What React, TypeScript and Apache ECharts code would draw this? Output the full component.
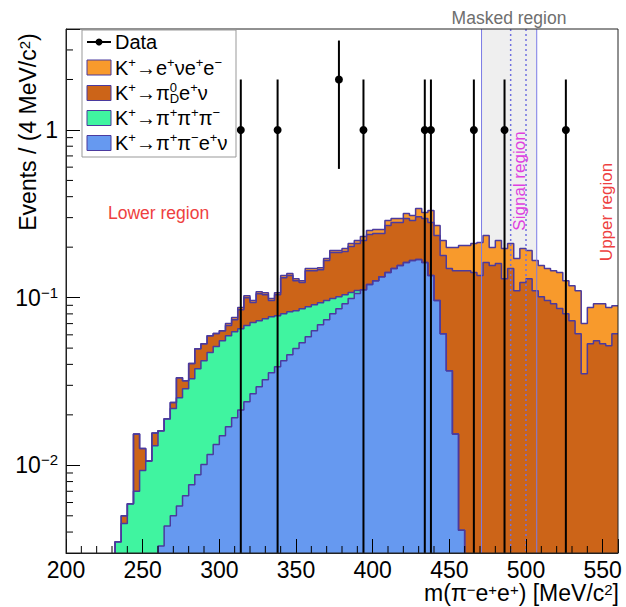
import React, { useEffect, useRef } from "react";
import * as echarts from "echarts";

// ---------- axis definition ----------
const X_MIN = 200;
const X_MAX = 560;
const BIN_WIDTH = 4;
const Y_MIN = 0.003;
const Y_MAX = 4;

const xTickLabels = ["200", "250", "300", "350", "400", "450", "500", "550"];
// exponent -> label ("^" marks a superscript)
const yTickLabels: Record<string, string> = { "0": "1", "-1": "10^−1", "-2": "10^−2" };

// ---------- histogram contents: 90 bins of 4 MeV from 200 to 560 ----------
// K+ -> pi+ pi- e+ nu (bottom of the stack)
const kPiPiENu = [
  0, 0, 0, 0, 0, 0, 0, 0, 0, 0,
  0, 0, 0, 0, 0, 0.0033, 0.00435, 0.005, 0.00573, 0.00658,
  0.00765, 0.00878, 0.0101, 0.0116, 0.0133, 0.015, 0.017, 0.0192, 0.0214, 0.0239,
  0.0267, 0.0294, 0.0324, 0.0357, 0.0387, 0.0421, 0.0457, 0.0497, 0.0539, 0.0585,
  0.0635, 0.069, 0.0739, 0.0802, 0.0859, 0.0921, 0.0987, 0.1057, 0.1116, 0.1196,
  0.1262, 0.1334, 0.141, 0.149, 0.1553, 0.1618, 0.1663, 0.1686, 0.1618, 0.1353,
  0.096, 0.061, 0.0367, 0.0154, 0.0041, 0, 0, 0, 0, 0,
  0, 0, 0, 0, 0, 0, 0, 0, 0, 0,
  0, 0, 0, 0, 0, 0, 0, 0, 0, 0,
];
// K+ -> pi+ pi+ pi-
const kPiPiPi = [
  0, 0, 0, 0, 0, 0, 0, 0, 0.0035, 0.0045,
  0.0059, 0.007, 0.0093, 0.0106, 0.0131, 0.0128, 0.0146, 0.0168, 0.0196, 0.022,
  0.0252, 0.0289, 0.032, 0.0354, 0.0378, 0.0403, 0.0423, 0.0435, 0.0439, 0.0442,
  0.0443, 0.0435, 0.0425, 0.0413, 0.0394, 0.0381, 0.0368, 0.0339, 0.032, 0.0298,
  0.0273, 0.0243, 0.0221, 0.0185, 0.0155, 0.0121, 0.0085, 0.0045, 0, 0,
  0, 0, 0, 0, 0, 0, 0, 0, 0, 0,
  0, 0, 0, 0, 0, 0, 0, 0, 0, 0,
  0, 0, 0, 0, 0, 0, 0, 0, 0, 0,
  0, 0, 0, 0, 0, 0, 0, 0, 0, 0,
];
// K+ -> pi0_D e+ nu
const kPi0DENu = [
  0, 0, 0, 0, 0, 0, 0, 0, 0, 0.0005,
  0, 0.0084, 0.0033, 0, 0.0025, 0, 0, 0.0019, 0.008, 0.0034,
  0.0076, 0.0119, 0.011, 0.0123, 0.01, 0.0082, 0.0088, 0.0112, 0.0195, 0.0319,
  0.0224, 0.0327, 0.0293, 0.019, 0.0261, 0.0514, 0.0528, 0.0427, 0.037, 0.0566,
  0.0541, 0.0536, 0.0703, 0.0869, 0.0842, 0.084, 0.0944, 0.0999, 0.1073, 0.1181,
  0.1148, 0.1076, 0.1281, 0.1314, 0.1251, 0.1342, 0.1217, 0.1354, 0.1342, 0.1451,
  0.1385, 0.1171, 0.1123, 0.1295, 0.1408, 0.1449, 0.141, 0.1353, 0.1618, 0.1553,
  0.1596, 0.1298, 0.149, 0.1101, 0.1229, 0.1298, 0.1101, 0.1014, 0.096, 0.0921,
  0.086, 0.0802, 0.0729, 0.061, 0.0352, 0.0531, 0.0553, 0.0531, 0.0517, 0.061,
];
// K+ -> e+ nu e+ e- (top of the stack)
const kENuEE = [
  0, 0, 0, 0, 0, 0, 0, 0, 0, 0,
  0, 0, 0, 0, 0, 0, 0, 0, 0, 0,
  0, 0, 0, 0, 0, 0, 0.0019, 0.0021, 0.0024, 0.0028,
  0.0026, 0.003, 0.0029, 0.0027, 0.0029, 0.0037, 0.0038, 0.0035, 0.0034, 0.0041,
  0.0041, 0.0041, 0.0046, 0.0052, 0.0052, 0.0079, 0.0085, 0.0088, 0.0124, 0.0135,
  0.0137, 0.0137, 0.0189, 0.0156, 0.0156, 0.021, 0.021, 0.036, 0.026, 0.0506,
  0.0346, 0.0408, 0.0499, 0.054, 0.0595, 0.0595, 0.0691, 0.0777, 0.0727, 0.0436,
  0.0593, 0.0663, 0.0611, 0.0608, 0.0732, 0.061, 0.0562, 0.0539, 0.053, 0.0528,
  0.055, 0.0461, 0.045, 0.0491, 0.0348, 0.0341, 0.0368, 0.039, 0.0355, 0.0286,
];

// ---------- data ----------
const dataMass = [314, 338, 378, 394, 434, 438, 466, 486, 526];
const dataEvents = [1, 1, 2, 1, 1, 1, 1, 1, 1];

// ---------- regions ----------
const maskedRegion = [471, 507];
const signalRegion = [490, 500];

const FONT = '"Liberation Sans", Arial, Helvetica, sans-serif';
const OUTLINE = "#4b3a9e";
const C_ENUEE = "#f89a2c";
const C_PI0D = "#cc6418";
const C_PIPIPI = "#40f4a0";
const C_PIPIENU = "#6699f0";

function add(a: number[], b: number[]) {
  return a.map((v, i) => v + b[i]);
}

function stepData(cum: number[]) {
  const pts = cum.map((v, i) => [X_MIN + BIN_WIDTH * i, v > 0 ? v : 1e-5]);
  pts.push([X_MAX, pts[pts.length - 1][1]]);
  return pts;
}

function stepSeries(name: string, cum: number[], color: string) {
  return {
    type: "line",
    name,
    step: "end",
    symbol: "none",
    clip: true,
    silent: true,
    data: stepData(cum),
    lineStyle: { color: OUTLINE, width: 1.5 },
    itemStyle: { color },
    areaStyle: { color, opacity: 1, origin: "start" },
    z: 3,
  };
}

export default function App() {
  const ref = useRef<HTMLDivElement>(null);

  useEffect(() => {
    const chart = echarts.init(ref.current!, undefined, { renderer: "svg" });

    const cumBlue = kPiPiENu.slice();
    const cumGreen = add(cumBlue, kPiPiPi);
    const cumDark = add(cumGreen, kPi0DENu);
    const cumTotal = add(cumDark, kENuEE);

    const minorTicks: number[][] = [];
    for (let x = X_MIN + 10; x < X_MAX; x += 10) {
      if (x % 50 !== 0) minorTicks.push([x, Y_MIN, 0]);
    }
    for (let e = -3; e <= 0; e++) {
      for (let m = 2; m <= 9; m++) {
        const v = m * Math.pow(10, e);
        if (v > Y_MIN * 1.0001 && v < Y_MAX * 0.9999) minorTicks.push([X_MIN, v, 1]);
      }
    }

    const supStyle = { fontSize: 13, fontFamily: FONT, color: "#000", verticalAlign: "top", lineHeight: 11 };
    const legendRich = {
      m: { fontSize: 20, fontFamily: FONT, color: "#000", lineHeight: 24, verticalAlign: "middle" },
      p: supStyle,
      z: { ...supStyle, width: 0 },
      d: { fontSize: 13, fontFamily: FONT, color: "#000", verticalAlign: "bottom", lineHeight: 11 },
    };

    const legendRows = [
      { text: "{m|Data}", color: null },
      { text: "{m|K}{p|+}{m|→e}{p|+}{m|νe}{p|+}{m|e}{p|−}", color: C_ENUEE },
      { text: "{m|K}{p|+}{m|→π}{z|0}{d|D}{m|e}{p|+}{m|ν}", color: C_PI0D },
      { text: "{m|K}{p|+}{m|→π}{p|+}{m|π}{p|+}{m|π}{p|−}", color: C_PIPIPI },
      { text: "{m|K}{p|+}{m|→π}{p|+}{m|π}{p|−}{m|e}{p|+}{m|ν}", color: C_PIPIENU },
    ];
    const rowY = [42, 67.5, 93, 118, 143];

    const legendElements: any[] = [
      {
        type: "rect",
        shape: { x: 82, y: 30, width: 154, height: 127 },
        style: { fill: "#fff", stroke: "#999", lineWidth: 1 },
        z: 100,
      },
    ];
    legendRows.forEach((r, i) => {
      const y = rowY[i];
      if (r.color) {
        legendElements.push({
          type: "rect",
          shape: { x: 87, y: y - 7.5, width: 24, height: 15 },
          style: { fill: r.color, stroke: OUTLINE, lineWidth: 1 },
          z: 101,
        });
      } else {
        legendElements.push({
          type: "line",
          shape: { x1: 87, y1: y, x2: 111, y2: y },
          style: { stroke: "#000", lineWidth: 2 },
          z: 101,
        });
        legendElements.push({
          type: "circle",
          shape: { cx: 99, cy: y, r: 3.5 },
          style: { fill: "#000" },
          z: 101,
        });
      }
      legendElements.push({
        type: "text",
        x: 115,
        y,
        style: { text: r.text, rich: legendRich, verticalAlign: "middle", align: "left" },
        z: 101,
      });
    });

    const titleRich = {
      t: { fontSize: 23, fontFamily: FONT, color: "#000", lineHeight: 22, verticalAlign: "middle" },
      s: { fontSize: 15, fontFamily: FONT, color: "#000", verticalAlign: "top", lineHeight: 11 },
    };

    const option: any = {
      animation: false,
      backgroundColor: "#fff",
      grid: {
        left: 66,
        right: 8,
        top: 29,
        bottom: 54,
        show: true,
        borderColor: "#222",
        borderWidth: 1,
        backgroundColor: "transparent",
        z: 50,
      },
      xAxis: {
        type: "value",
        min: X_MIN,
        max: X_MAX,
        interval: 50,
        z: 40,
        axisLine: { show: true, onZero: false, lineStyle: { color: "#222", width: 1 } },
        axisTick: { show: true, inside: true, length: 14, lineStyle: { color: "#000", width: 1 } },
        axisLabel: {
          fontSize: 23,
          lineHeight: 23,
          fontFamily: FONT,
          color: "#000",
          margin: 5,
          formatter: (v: number) => (xTickLabels.includes(String(v)) ? String(v) : ""),
        },
        splitLine: { show: false },
      },
      yAxis: {
        type: "log",
        logBase: 10,
        min: Y_MIN,
        max: Y_MAX,
        z: 40,
        axisLine: { show: true, lineStyle: { color: "#222", width: 1 } },
        axisTick: { show: true, inside: true, length: 14, lineStyle: { color: "#000", width: 1 } },
        axisLabel: {
          margin: 8,
          formatter: (v: number) => {
            const lg = Math.log10(v);
            const e = Math.round(lg);
            if (Math.abs(lg - e) > 1e-6) return "";
            const s = yTickLabels[String(e)];
            if (!s) return "";
            if (s.includes("^")) {
              const [b, p] = s.split("^");
              return `{b|${b}}{s|${p}}`;
            }
            return `{b|${s}}`;
          },
          rich: {
            b: { fontSize: 23, fontFamily: FONT, color: "#000", lineHeight: 26, verticalAlign: "middle" },
            s: { fontSize: 15, fontFamily: FONT, color: "#000", verticalAlign: "top", lineHeight: 14 },
          },
        },
        splitLine: { show: false },
      },
      graphic: [
        ...legendElements,
        {
          type: "text",
          x: 28,
          y: 132,
          rotation: Math.PI / 2,
          style: {
            text: "{t|Events / (4 MeV/c}{s|2}{t|)}",
            align: "center",
            verticalAlign: "middle",
            rich: titleRich,
          },
        },
        {
          type: "text",
          x: 619,
          y: 593,
          style: {
            text: "{t|m(π}{s|−}{t|e}{s|+}{t|e}{s|+}{t|) [MeV/c}{s|2}{t|]}",
            align: "right",
            verticalAlign: "middle",
            rich: titleRich,
          },
        },
        {
          type: "text",
          x: 509,
          y: 18,
          style: {
            text: "Masked region",
            fill: "#6e6e6e",
            fontSize: 17.5,
            fontFamily: FONT,
            align: "center",
            verticalAlign: "middle",
          },
        },
        {
          type: "text",
          x: 108,
          y: 213,
          style: {
            text: "Lower region",
            fill: "#ee4040",
            fontSize: 17.5,
            fontFamily: FONT,
            align: "left",
            verticalAlign: "middle",
          },
        },
        {
          type: "text",
          x: 606,
          y: 212,
          rotation: Math.PI / 2,
          style: {
            text: "Upper region",
            fill: "#ee4040",
            fontSize: 17,
            fontFamily: FONT,
            align: "center",
            verticalAlign: "middle",
          },
        },
        {
          type: "text",
          x: 519,
          y: 181,
          rotation: Math.PI / 2,
          z: 60,
          style: {
            text: "Signal region",
            fill: "#e040e0",
            fontSize: 17,
            fontFamily: FONT,
            align: "center",
            verticalAlign: "middle",
          },
        },
      ],
      series: [
        {
          type: "custom",
          name: "masked band",
          silent: true,
          z: 1,
          data: [[maskedRegion[0], 1]],
          renderItem: (params: any, api: any) => {
            const a = api.coord([maskedRegion[0], Y_MAX]);
            const b = api.coord([maskedRegion[1], Y_MIN]);
            return {
              type: "rect",
              shape: { x: a[0], y: a[1], width: b[0] - a[0], height: b[1] - a[1] },
              style: { fill: "#efefef" },
            };
          },
        },
        stepSeries("K+→e+νe+e−", cumTotal, C_ENUEE),
        stepSeries("K+→π0D e+ν", cumDark, C_PI0D),
        stepSeries("K+→π+π+π−", cumGreen, C_PIPIPI),
        stepSeries("K+→π+π−e+ν", cumBlue, C_PIPIENU),
        {
          type: "custom",
          name: "region lines",
          silent: true,
          z: 10,
          data: [[maskedRegion[0], 1]],
          renderItem: (params: any, api: any) => {
            const children: any[] = [];
            maskedRegion.forEach((m) => {
              const a = api.coord([m, Y_MAX]);
              const b = api.coord([m, Y_MIN]);
              children.push({
                type: "line",
                shape: { x1: a[0], y1: a[1], x2: b[0], y2: b[1] },
                style: { stroke: "#7b7be6", lineWidth: 1 },
              });
            });
            signalRegion.forEach((m) => {
              const a = api.coord([m, Y_MAX]);
              const b = api.coord([m, Y_MIN]);
              children.push({
                type: "line",
                shape: { x1: a[0], y1: a[1], x2: b[0], y2: b[1] },
                style: { stroke: "#7070e0", lineWidth: 1.5, lineDash: [2, 3] },
              });
            });
            return { type: "group", children };
          },
        },
        {
          type: "custom",
          name: "Data",
          silent: true,
          z: 20,
          data: dataMass.map((m, i) => [m, dataEvents[i]]),
          renderItem: (params: any, api: any) => {
            const m = api.value(0);
            const n = api.value(1);
            const err = Math.sqrt(n);
            const top = api.coord([m, n + err]);
            const mid = api.coord([m, n]);
            const cs = params.coordSys;
            const bottomY = n - err > Y_MIN ? api.coord([m, n - err])[1] : cs.y + cs.height;
            return {
              type: "group",
              children: [
                {
                  type: "line",
                  shape: { x1: top[0], y1: top[1], x2: top[0], y2: bottomY },
                  style: { stroke: "#000", lineWidth: 2 },
                },
                {
                  type: "circle",
                  shape: { cx: mid[0], cy: mid[1], r: 4 },
                  style: { fill: "#000" },
                },
              ],
            };
          },
        },
        {
          type: "custom",
          name: "minor ticks",
          silent: true,
          z: 30,
          data: minorTicks,
          renderItem: (params: any, api: any) => {
            const p = api.coord([api.value(0), api.value(1)]);
            const vertical = api.value(2) === 0;
            return {
              type: "line",
              shape: vertical
                ? { x1: p[0], y1: p[1], x2: p[0], y2: p[1] - 7 }
                : { x1: p[0], y1: p[1], x2: p[0] + 7, y2: p[1] },
              style: { stroke: "#000", lineWidth: 1 },
            };
          },
        },
      ],
    };

    chart.setOption(option);
    return () => chart.dispose();
  }, []);

  return (
    <div
      ref={ref}
      style={{ position: "fixed", left: 0, top: 0, width: 626, height: 607, background: "#fff" }}
    />
  );
}
